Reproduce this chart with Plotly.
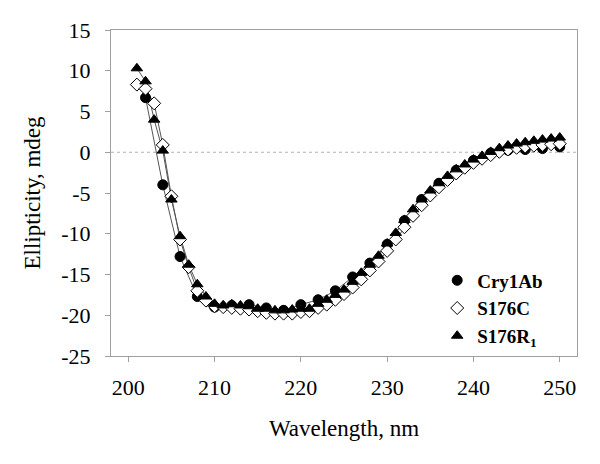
import plotly.graph_objects as go

wl_odd = list(range(201, 251))
wl_even = list(range(202, 251, 2))

cry1ab = [6.7, -4.0, -12.8, -17.7, -19.0, -18.8, -18.7, -19.1, -19.4, -18.7,
          -18.1, -17.0, -15.3, -13.6, -11.3, -8.4, -5.8, -3.8, -2.2, -1.0,
          -0.1, 0.25, 0.33, 0.45, 0.65]

s176c = [8.3, 7.8, 6.0, 0.9, -5.4, -10.7, -14.1, -17.0, -18.2, -18.9,
         -19.0, -19.1, -19.2, -19.3, -19.5, -19.7, -19.8, -19.8, -19.8, -19.6,
         -19.5, -19.1, -18.7, -18.1, -17.4, -16.6, -15.6, -14.5, -13.4, -12.1,
         -10.7, -9.2, -7.8, -6.5, -5.3, -4.3, -3.4, -2.6, -1.9, -1.3,
         -0.8, -0.35, 0.05, 0.35, 0.55, 0.7, 0.8, 0.9, 0.98, 1.05]

s176r1 = [10.3, 8.7, 4.0, 0.2, -5.8, -10.3, -13.8, -16.2, -17.7, -18.6,
          -18.8, -18.65, -18.8, -18.9, -19.2, -19.2, -19.4, -19.4, -19.3, -19.2,
          -19.2, -18.6, -18.1, -17.5, -16.85, -15.9, -14.8, -13.8, -12.7, -11.2,
          -9.9, -8.3, -7.0, -5.8, -4.7, -3.8, -2.9, -2.1, -1.5, -0.9,
          -0.45, 0.04, 0.5, 0.82, 1.06, 1.23, 1.4, 1.55, 1.68, 1.8]

x_ticks = [200, 210, 220, 230, 240, 250]
y_ticks = [15, 10, 5, 0, -5, -10, -15, -20, -25]

series = [
    ("Cry1Ab", wl_even, cry1ab, dict(symbol="circle", size=10, color="black",
                                      line=dict(color="black", width=1))),
    ("S176C", wl_odd, s176c, dict(symbol="diamond", size=10, color="white",
                                   line=dict(color="black", width=1))),
    ("S176R<sub>1</sub>", wl_odd, s176r1, dict(symbol="triangle-up", size=10, color="black",
                                                line=dict(color="black", width=1))),
]

fig = go.Figure()
for name, x, y, mk in series:
    fig.add_trace(go.Scatter(x=x, y=y, mode="lines", line=dict(color="#555555", width=1),
                             showlegend=False, hoverinfo="skip"))
for name, x, y, mk in series:
    fig.add_trace(go.Scatter(x=x, y=y, mode="markers", marker=mk, name=name))

fig.add_shape(type="line", xref="paper", yref="y", x0=0, x1=1, y0=0, y1=0,
              line=dict(color="#b0b0b0", width=1, dash="dot"), layer="below")

font_family = "Liberation Serif"
fig.update_layout(
    width=600, height=464,
    margin=dict(l=103, r=31, t=22, b=116),
    paper_bgcolor="white", plot_bgcolor="white",
    font=dict(family=font_family, size=22, color="black"),
    showlegend=True,
    legend=dict(x=0.70, y=0.29, xanchor="left", yanchor="top",
                font=dict(family=font_family, size=19, color="black", weight="bold"),
                bgcolor="rgba(0,0,0,0)", itemwidth=30, tracegroupgap=0),
    xaxis=dict(range=[198, 252], tickvals=x_ticks, ticktext=[str(v) for v in x_ticks],
               showgrid=False, zeroline=False, showline=True, mirror=True,
               linecolor="#a0a0a0", linewidth=1, ticks="outside", ticklen=5,
               tickcolor="#a0a0a0", ticklabelstandoff=7, automargin=False,
               tickfont=dict(family=font_family, size=22),
               title=dict(text="Wavelength, nm", standoff=20,
                          font=dict(family=font_family, size=23))),
    yaxis=dict(range=[-25, 15], tickvals=y_ticks, ticktext=[str(v) for v in y_ticks],
               showgrid=False, zeroline=False, showline=True, mirror=True,
               linecolor="#a0a0a0", linewidth=1, ticks="outside", ticklen=5,
               tickcolor="#a0a0a0", ticklabelstandoff=10, automargin=False,
               tickfont=dict(family=font_family, size=22),
               title=dict(text="Ellipticity, mdeg", standoff=14,
                          font=dict(family=font_family, size=23))),
)

fig.write_html("out.html")
